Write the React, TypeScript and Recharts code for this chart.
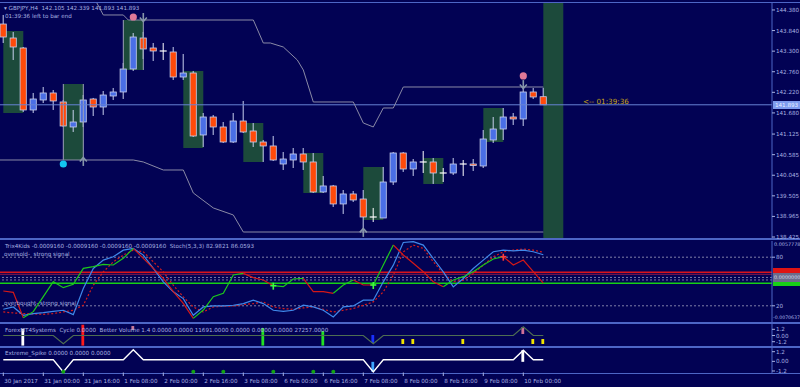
import React from "react";
import {
  ComposedChart,
  Bar,
  Line,
  Scatter,
  XAxis,
  YAxis,
  ReferenceArea,
  ReferenceLine,
} from "recharts";

const BG = "#020254";
const TXT = "#a9b3e2";
const EDGE = "#4d66c6";
const FONT = "DejaVu Sans";
const FS = 5.6;

// --- candles (GBPJPY H4), k = bar index ---
const opens = [144.012, 143.645, 143.383, 141.757, 142.019, 142.203, 141.967, 141.311, 141.442, 142.045, 141.835, 142.124, 142.229, 142.832, 143.645, 143.383, 143.304, 143.278, 142.622, 142.727, 141.101, 141.573, 141.311, 140.917, 141.468, 141.206, 140.917, 140.813, 140.34, 140.445, 140.603, 140.393, 139.606, 139.764, 139.292, 139.554, 139.422, 138.95, 138.924, 139.868, 140.629, 140.209, 140.393, 140.393, 140.104, 140.104, 140.34, 140.34, 140.288, 140.97, 141.258, 141.573, 141.521, 142.229, 142.105];
const highs = [144.249, 143.803, 143.409, 142.203, 142.36, 142.281, 142.019, 141.757, 142.15, 142.072, 142.255, 142.334, 142.99, 143.776, 143.803, 143.514, 143.514, 143.409, 143.226, 142.78, 141.678, 141.626, 141.442, 141.678, 141.993, 141.416, 140.97, 141.075, 140.655, 140.76, 140.76, 140.629, 140.026, 139.79, 139.658, 139.632, 139.658, 139.187, 140.262, 140.655, 140.655, 140.471, 140.681, 140.498, 140.235, 140.498, 140.445, 140.471, 141.232, 141.573, 141.809, 141.678, 142.386, 142.334, 142.339];
const lows = [143.514, 143.068, 141.704, 141.678, 141.94, 141.757, 141.311, 141.18, 141.311, 141.599, 141.626, 142.019, 142.045, 142.78, 143.094, 143.042, 143.068, 142.544, 142.544, 141.049, 140.786, 141.101, 140.891, 140.891, 141.153, 140.786, 140.393, 140.419, 140.183, 140.235, 140.183, 139.58, 139.58, 139.213, 139.029, 139.344, 138.531, 138.819, 138.924, 139.79, 140.131, 140.026, 140.104, 139.816, 139.868, 140.052, 140.026, 140.157, 140.235, 140.891, 140.97, 141.363, 141.337, 142.045, 141.893];
const closes = [143.671, 143.409, 141.757, 142.045, 142.203, 141.993, 141.337, 141.442, 142.019, 141.835, 142.15, 142.229, 142.832, 143.671, 143.357, 143.304, 143.304, 142.622, 142.727, 141.075, 141.573, 141.311, 140.917, 141.468, 141.18, 140.917, 140.813, 140.445, 140.471, 140.603, 140.393, 139.606, 139.764, 139.292, 139.554, 139.396, 138.95, 138.95, 139.868, 140.629, 140.209, 140.393, 140.393, 140.104, 140.104, 140.34, 140.34, 140.314, 140.996, 141.258, 141.573, 141.521, 142.229, 142.098, 141.893];

const priceTicks = [144.38, 143.84, 143.3, 142.76, 142.22, 141.68, 141.125, 140.585, 140.045, 139.505, 138.965, 138.425];
const lastPrice = 141.893;

// shaded zones: from bar k1 to k2, price top/bottom
const zones = [
  { k1: 0, k2: 2, top: 143.829, bottom: 141.678 },
  { k1: 6, k2: 8, top: 142.439, bottom: 140.445 },
  { k1: 12, k2: 14, top: 144.117, bottom: 142.806 },
  { k1: 18, k2: 20, top: 142.78, bottom: 140.76 },
  { k1: 24, k2: 26, top: 141.416, bottom: 140.393 },
  { k1: 30, k2: 32, top: 140.629, bottom: 139.58 },
  { k1: 36, k2: 38, top: 140.262, bottom: 138.872 },
  { k1: 42, k2: 44, top: 140.498, bottom: 139.816 },
  { k1: 48, k2: 50, top: 141.809, bottom: 140.917 },
  { k1: 54, k2: 56, top: 145, bottom: 138 },
];
const zoneEdges = [
  { k: 6, top: 142.439, bottom: 140.445 },
  { k: 8, top: 142.439, bottom: 140.445 },
  { k: 12, top: 144.117, bottom: 142.806 },
  { k: 14, top: 144.117, bottom: 142.806 },
];

// channel lines
const upperBand = [
  { k: 9.2, p: 144.64 }, { k: 10, p: 144.249 }, { k: 12, p: 144.249 }, { k: 12.5, p: 144.117 },
  { k: 25, p: 144.117 }, { k: 26, p: 143.514 }, { k: 26.7, p: 143.514 }, { k: 28, p: 143.409 },
  { k: 29.4, p: 143.068 }, { k: 30, p: 142.806 }, { k: 31, p: 141.967 }, { k: 35, p: 141.967 },
  { k: 36, p: 141.416 }, { k: 37, p: 141.311 }, { k: 38, p: 141.809 }, { k: 39, p: 141.809 },
  { k: 40, p: 142.36 }, { k: 54, p: 142.36 },
];
const lowerBand = [
  { k: -0.33, p: 140.445 }, { k: 13, p: 140.445 }, { k: 14, p: 140.393 }, { k: 16, p: 140.183 },
  { k: 18, p: 140.183 }, { k: 19, p: 139.58 }, { k: 21, p: 139.187 }, { k: 23, p: 139.003 },
  { k: 24, p: 138.556 }, { k: 54, p: 138.556 },
];

const pinkDots = [{ k: 13, p: 144.196 }, { k: 52, p: 142.649 }];
const cyanDots = [{ k: 6, p: 140.34 }];
const downArrows = [{ k: 14, p: 144.17 }, { k: 52, p: 142.41 }];
const upArrows = [{ k: 8, p: 140.42 }, { k: 36, p: 138.56 }];

// --- Trix4Kids / Stoch panel ---
const trix = [-0.002149, -0.00236, -0.006377, -0.005426, -0.003048, -0.00067, -0.001621, -0.001092, 0.001444, 0.001709, 0.002079, 0.001973, 0.00303, 0.004615, 0.00303, 0.001444, -0.000141, -0.002255, -0.004105, -0.006483, -0.005162, -0.003048, -0.002519, 0.000388, 0.000652, -0.000035, -0.000405, -0.001304, -0.001462, -0.000247, -0.000141, -0.002255, -0.002255, -0.002519, -0.001198, -0.000405, -0.001198, -0.001198, 0.001973, 0.005144, 0.003558, 0.002237, 0.000916, -0.00067, -0.001462, -0.000405, 0.000123, 0.000916, 0.001973, 0.002924, 0.003294, 0.001973, 0.002766, 0.000916, -0.000916];
const trixGreenRuns = [[2, 13], [19, 24], [27, 30], [33, 35], [37, 39], [44, 50]];
const trixRedRuns = [[0, 2], [13, 19], [24, 27], [30, 33], [35, 37], [39, 44], [50, 54]];
const stochMain = [15.7, 18.6, 8.3, 10.4, 11.6, 13.2, 14.5, 9.1, 41.3, 66.1, 76.4, 80.5, 88.7, 90.8, 82.6, 66.1, 49.6, 37.2, 28.9, 8.3, 18.6, 19.8, 19.8, 20.7, 22.7, 26.9, 22.7, 14.5, 13.2, 14.5, 20.7, 18.6, 14.5, 6.2, 18.6, 19.8, 26.9, 26.9, 49.6, 70.2, 98.2, 99.1, 94.9, 78.4, 61.9, 43.4, 53.7, 66.1, 76.4, 86.7, 88.7, 87.9, 88.7, 86.7, 83.0];
const stochSignal = [12.4, 11.2, 10.4, 10.0, 9.5, 10.4, 12.4, 14.5, 20.7, 45.4, 61.9, 74.3, 82.6, 88.7, 86.7, 74.3, 61.9, 45.4, 31.0, 18.6, 12.4, 18.6, 19.4, 19.8, 21.5, 22.7, 24.8, 18.6, 16.6, 15.7, 17.4, 18.6, 15.7, 12.4, 14.5, 16.6, 20.7, 24.8, 37.2, 57.8, 86.7, 94.9, 90.8, 74.3, 59.9, 49.6, 51.6, 59.9, 70.2, 80.5, 86.7, 88.7, 90.0, 88.7, 86.1];
const trixBuy = [27, 37];
const trixSell = [50];

// --- Cycle / Better Volume panel ---
const cycle = [0, 0, 0, 0, 0, 0, -1.6, 0, 0, 0, 0, 0, 0, 0, 0, 0, 0, 0, 0, 0, 0, 0, 0, 0, 0, 0, 0, 0, 0, 0, 0, 0, 0, 0, 0, 0, 0, -1.6, 0, 0, 0, 0, 0, 0, 0, 0, 0, 0, 0, 0, 0, 0, 1.7, 0, 0];
const volMarks = [
  { k: 2, lo: -1.95, hi: 1.32, color: "#ffffff" },
  { k: 8, lo: -1.95, hi: 2.09, color: "#ff1a1a" },
  { k: 13, lo: 1.06, hi: 1.84, color: "#c87898" },
  { k: 26, lo: -1.95, hi: 1.45, color: "#22e022" },
  { k: 32, lo: -1.95, hi: 0.87, color: "#22e022" },
  { k: 37, lo: -1.45, hi: 0.1, color: "#1a30ff" },
  { k: 40, lo: -1.64, hi: -0.68, color: "#f2e400" },
  { k: 41, lo: -1.64, hi: -0.68, color: "#f2e400" },
  { k: 46, lo: -1.64, hi: -0.68, color: "#f2e400" },
  { k: 52, lo: 0.29, hi: 1.64, color: "#d07098" },
  { k: 53, lo: -1.64, hi: -0.68, color: "#f2e400" },
  { k: 54, lo: -1.64, hi: -0.68, color: "#f2e400" },
];

// --- Extreme_Spike panel ---
const spike = [0.19, 0.19, 0.19, 0.19, 0.19, 0.19, -1.31, 0.19, 0.19, 0.19, 0.19, 0.19, 0.19, 1.43, 0.19, 0.19, 0.19, 0.19, 0.19, 0.19, 0.19, 0.19, 0.19, 0.19, 0.19, 0.19, 0.19, 0.19, 0.19, 0.19, 0.19, 0.19, 0.19, 0.19, 0.19, 0.19, 0.19, -1.31, 0.19, 0.19, 0.19, 0.19, 0.19, 0.19, 0.19, 0.19, 0.19, 0.19, 0.19, 0.19, 0.19, 0.19, 1.38, 0.19, 0.19];
const spikeMarks = [
  { k: 37, lo: -1.31, hi: -0.06, color: "#3ea6ff" },
  { k: 52, lo: -0.06, hi: 1.38, color: "#ffffff" },
];
const spikeDots = [6, 19, 22, 27, 31, 33];

const timeTicks = [0, 4, 8, 12, 16, 20, 24, 28, 32, 36, 40, 44, 48, 52];
const timeLabels = ["30 Jan 2017", "31 Jan 00:00", "31 Jan 16:00", "1 Feb 08:00", "2 Feb 00:00", "2 Feb 16:00", "3 Feb 08:00", "6 Feb 00:00", "6 Feb 16:00", "7 Feb 08:00", "8 Feb 00:00", "8 Feb 16:00", "9 Feb 08:00", "10 Feb 00:00"];

const X_DOMAIN: [number, number] = [-0.33, 76.87];

const candles = opens.map((o, k) => ({ k, o, h: highs[k], l: lows[k], c: closes[k] }));

const inRuns = (k: number, runs: number[][]) => runs.some(([a, b]) => k >= a && k <= b);
const indRows = trix.map((t, k) => ({
  k,
  main: stochMain[k],
  sig: stochSignal[k],
  tg: inRuns(k, trixGreenRuns) ? t : null,
  tr: inRuns(k, trixRedRuns) ? t : null,
}));
const buyPts = trixBuy.map((k) => ({ k, t: trix[k] }));
const sellPts = trixSell.map((k) => ({ k, t: trix[k] }));

const volRows = cycle.map((c, k) => {
  const m = volMarks.find((v) => v.k === k);
  return { k, cyc: c, vol: m ? [m.lo, m.hi] : null, color: m ? m.color : "none" };
});
const spikeRows = spike.map((s, k) => {
  const m = spikeMarks.find((v) => v.k === k);
  return { k, spk: s, sb: m ? [m.lo, m.hi] : null, color: m ? m.color : "none" };
});
const spikeDotPts = spikeDots.map((k) => ({ k, v: -1.31 }));

// pick the data row out of the props a bar shape receives
const rowOf = (props: any, key: string) => {
  const p = props.payload;
  if (p && p[key] !== undefined) return p;
  if (p && p.payload && p.payload[key] !== undefined) return p.payload;
  if (props[key] !== undefined) return props;
  return null;
};

// --- shapes ---
const BODY_W = 7;
const Candle = (props: any) => {
  const { x, y, width, height } = props;
  const d = rowOf(props, "o");
  if (!d || height == null || isNaN(y)) return null;
  const { o, h, l, c } = d;
  const top = Math.min(y, y + height);
  const span = Math.abs(height);
  const per = h - l > 0 ? span / (h - l) : 0;
  const yO = top + (h - o) * per;
  const yC = top + (h - c) * per;
  const cx = x + width / 2;
  const x0 = cx - BODY_W / 2;
  const wick = "#c9d0ee";
  if (o === c) {
    return (
      <g>
        <line x1={cx} x2={cx} y1={top} y2={top + span} stroke="#ffffff" />
        <line x1={x0} x2={x0 + BODY_W} y1={yO} y2={yO} stroke="#ffffff" strokeWidth={1.2} />
      </g>
    );
  }
  const bull = c > o;
  const bTop = Math.min(yO, yC);
  const bH = Math.max(Math.abs(yC - yO), 1.5);
  return (
    <g>
      <line x1={cx} x2={cx} y1={top} y2={top + span} stroke={wick} />
      <rect
        x={x0 + 0.4}
        y={bTop}
        width={BODY_W - 0.8}
        height={bH}
        fill={bull ? "#4a6fe6" : "#ff4a0a"}
        stroke={wick}
        strokeWidth={0.8}
      />
    </g>
  );
};

const Mark = (props: any) => {
  const { x, y, width, height } = props;
  const d = rowOf(props, "color");
  if (!d || d.color === "none" || height == null || isNaN(y)) return null;
  const cx = x + width / 2;
  const top = Math.min(y, y + height);
  return <rect x={cx - 1.4} y={top} width={2.8} height={Math.abs(height)} fill={d.color} />;
};

const Dot = (color: string, r: number) => (p: any) => (
  <circle cx={p.cx} cy={p.cy} r={r} fill={color} />
);

const ArrowDown = (p: any) => (
  <g stroke="#8796aa" strokeWidth={1.6} fill="none">
    <line x1={p.cx} x2={p.cx} y1={p.cy - 5} y2={p.cy + 3} />
    <polyline points={`${p.cx - 3.5},${p.cy - 0.5} ${p.cx},${p.cy + 3.5} ${p.cx + 3.5},${p.cy - 0.5}`} />
  </g>
);
const ArrowUp = (p: any) => (
  <g stroke="#8796aa" strokeWidth={1.6} fill="none">
    <line x1={p.cx} x2={p.cx} y1={p.cy + 5} y2={p.cy - 3} />
    <polyline points={`${p.cx - 3.5},${p.cy + 0.5} ${p.cx},${p.cy - 3.5} ${p.cx + 3.5},${p.cy + 0.5}`} />
  </g>
);
const Cross = (color: string) => (p: any) => (
  <g stroke={color} strokeWidth={1.6}>
    <line x1={p.cx - 3} x2={p.cx + 3} y1={p.cy} y2={p.cy} />
    <line x1={p.cx} x2={p.cx} y1={p.cy - 3} y2={p.cy + 4} />
  </g>
);

const TimeTick = (props: any) => {
  const { x, y, payload } = props;
  const i = timeTicks.indexOf(payload.value);
  return (
    <g>
      <line x1={x} x2={x} y1={y - 0.5} y2={y + 3} stroke={TXT} />
      <text x={x + 1} y={y + 10} fill={TXT} fontSize={FS} fontFamily={FONT} textAnchor="start">
        {timeLabels[i]}
      </text>
    </g>
  );
};

const axisTick = { fill: TXT, fontSize: FS, fontFamily: FONT };

const Txt: React.FC<{ x: number; y: number; color?: string; size?: number; children: React.ReactNode }> = ({ x, y, color, size, children }) => (
  <div
    style={{
      position: "absolute",
      left: x,
      top: y - 4,
      height: 8,
      lineHeight: "8px",
      fontSize: size || FS,
      fontFamily: FONT,
      color: color || TXT,
      whiteSpace: "pre",
    }}
  >
    {children}
  </div>
);

const HLine: React.FC<{ y: number; h?: number }> = ({ y, h }) => (
  <div style={{ position: "absolute", left: 0, top: y, width: 800, height: h || 1, background: EDGE }} />
);

const App: React.FC = () => {
  return (
    <div
      style={{
        position: "fixed",
        left: 0,
        top: 0,
        width: 800,
        height: 387,
        background: BG,
        overflow: "hidden",
      }}
    >
      <HLine y={2} />
      <HLine y={238} h={2} />
      <HLine y={322} h={2} />
      <HLine y={346} h={2} />
      <HLine y={373} />

      {/* main price chart */}
      <div style={{ position: "absolute", left: 0, top: 3 }}>
        <ComposedChart width={800} height={241} data={candles} margin={{ top: 0, right: 0, bottom: 6, left: 0 }}>
          <XAxis dataKey="k" type="number" domain={X_DOMAIN} allowDataOverflow hide />
          <YAxis
            orientation="right"
            width={28}
            domain={[138.399, 144.563]}
            allowDataOverflow
            ticks={priceTicks}
            interval={0}
            tick={axisTick}
            tickFormatter={(v) => Number(v).toFixed(3)}
            tickSize={3}
            tickMargin={1}
            tickLine={{ stroke: TXT }}
            axisLine={{ stroke: EDGE }}
          />
          {zones.map((z, i) => (
            <ReferenceArea
              key={i}
              x1={z.k1}
              x2={z.k2}
              y1={z.bottom}
              y2={z.top}
              fill="#1c4a3b"
              fillOpacity={1}
              stroke="none"
              ifOverflow="hidden"
            />
          ))}
          {zoneEdges.map((e, i) => (
            <ReferenceLine
              key={"e" + i}
              segment={[{ x: e.k, y: e.top }, { x: e.k, y: e.bottom }]}
              stroke="#9ea2b8"
              strokeWidth={1}
            />
          ))}
          <ReferenceLine y={lastPrice} stroke="#6682d4" strokeWidth={1} />
          <Line data={upperBand} dataKey="p" type="linear" stroke="#8a8aa6" strokeWidth={1} dot={false} isAnimationActive={false} />
          <Line data={lowerBand} dataKey="p" type="linear" stroke="#8a8aa6" strokeWidth={1} dot={false} isAnimationActive={false} />
          <Bar dataKey={(d: any) => [d.l, d.h]} barSize={7} shape={Candle} isAnimationActive={false} />
          <Scatter data={pinkDots} dataKey="p" shape={Dot("#e07898", 3.6)} isAnimationActive={false} />
          <Scatter data={cyanDots} dataKey="p" shape={Dot("#12c6f2", 3.6)} isAnimationActive={false} />
          <Scatter data={downArrows} dataKey="p" shape={ArrowDown} isAnimationActive={false} />
          <Scatter data={upArrows} dataKey="p" shape={ArrowUp} isAnimationActive={false} />
        </ComposedChart>
      </div>

      {/* Trix4Kids + Stoch */}
      <div style={{ position: "absolute", left: 0, top: 241 }}>
        <ComposedChart width={800} height={81} data={indRows} margin={{ top: 0, right: 0, bottom: 0, left: 0 }}>
          <XAxis dataKey="k" type="number" domain={X_DOMAIN} allowDataOverflow hide />
          <YAxis
            yAxisId="st"
            orientation="right"
            width={28}
            domain={[0, 100]}
            ticks={[20, 80]}
            tick={axisTick}
            tickSize={3}
            tickMargin={1}
            tickLine={{ stroke: TXT }}
            axisLine={{ stroke: EDGE }}
          />
          <YAxis yAxisId="tx" orientation="right" domain={[-0.0070637, 0.0057778]} allowDataOverflow hide />
          <ReferenceLine yAxisId="st" y={80} stroke="#8080a8" strokeDasharray="2 2" />
          <ReferenceLine yAxisId="st" y={20} stroke="#8080a8" strokeDasharray="2 2" />
          <ReferenceLine yAxisId="tx" y={0.00082} stroke="#d8141c" strokeWidth={1.5} />
          <ReferenceLine yAxisId="tx" y={0.0005} stroke="#8a1a4a" strokeWidth={1} />
          <ReferenceLine yAxisId="tx" y={0} stroke="#7a7aa4" strokeDasharray="2 2" />
          <ReferenceLine yAxisId="tx" y={-0.0004} stroke="#7a7aa4" strokeDasharray="2 2" />
          <ReferenceLine yAxisId="tx" y={-0.000916} stroke="#16d016" strokeWidth={1.5} />
          <Line yAxisId="st" dataKey="sig" stroke="#d41c1c" strokeDasharray="2 2" strokeWidth={1.2} dot={false} isAnimationActive={false} />
          <Line yAxisId="st" dataKey="main" stroke="#3f88ea" strokeWidth={1.2} dot={false} isAnimationActive={false} />
          <Line yAxisId="tx" dataKey="tr" stroke="#d41818" strokeWidth={1.2} dot={false} connectNulls={false} isAnimationActive={false} />
          <Line yAxisId="tx" dataKey="tg" stroke="#1cc81c" strokeWidth={1.2} dot={false} connectNulls={false} isAnimationActive={false} />
          <Scatter yAxisId="tx" data={buyPts} dataKey="t" shape={Cross("#3cff3c")} isAnimationActive={false} />
          <Scatter yAxisId="tx" data={sellPts} dataKey="t" shape={Cross("#ff3c3c")} isAnimationActive={false} />
        </ComposedChart>
      </div>

      {/* Cycle + Better Volume */}
      <div style={{ position: "absolute", left: 0, top: 324 }}>
        <ComposedChart width={800} height={22} data={volRows} margin={{ top: 0, right: 0, bottom: 0, left: 0 }}>
          <XAxis dataKey="k" type="number" domain={X_DOMAIN} allowDataOverflow hide />
          <YAxis
            orientation="right"
            width={28}
            domain={[-2.03, 2.23]}
            ticks={[1.2, 0, -1.2]}
            interval={0}
            tick={axisTick}
            tickFormatter={(v) => (v === 0 ? "0.00" : String(v))}
            tickSize={3}
            tickMargin={1}
            tickLine={{ stroke: TXT }}
            axisLine={{ stroke: EDGE }}
          />
          <Line dataKey="cyc" stroke="#4f6e52" strokeWidth={1.2} dot={false} isAnimationActive={false} />
          <Bar dataKey="vol" barSize={3} shape={Mark} isAnimationActive={false} />
        </ComposedChart>
      </div>

      {/* Extreme_Spike + time axis */}
      <div style={{ position: "absolute", left: 0, top: 348 }}>
        <ComposedChart width={800} height={39} data={spikeRows} margin={{ top: 0, right: 0, bottom: 0, left: 0 }}>
          <XAxis
            dataKey="k"
            type="number"
            domain={X_DOMAIN}
            allowDataOverflow
            ticks={timeTicks}
            interval={0}
            height={14}
            axisLine={false}
            tickLine={false}
            tickSize={0}
            tickMargin={0}
            tick={TimeTick}
          />
          <YAxis
            orientation="right"
            width={28}
            domain={[-1.45, 1.66]}
            ticks={[1.2, 0, -1.2]}
            interval={0}
            tick={axisTick}
            tickFormatter={(v) => (v === 0 ? "0.00" : String(v))}
            tickSize={3}
            tickMargin={1}
            tickLine={{ stroke: TXT }}
            axisLine={{ stroke: EDGE }}
          />
          <Line dataKey="spk" stroke="#ffffff" strokeWidth={1.4} dot={false} isAnimationActive={false} />
          <Bar dataKey="sb" barSize={3} shape={Mark} isAnimationActive={false} />
          <Scatter data={spikeDotPts} dataKey="v" shape={Dot("#13a313", 2)} isAnimationActive={false} />
        </ComposedChart>
      </div>

      {/* labels */}
      <Txt x={4} y={8}>{"▾ GBPJPY,H4  142.105 142.339 141.893 141.893"}</Txt>
      <Txt x={5} y={16}>01:39:36 left to bar end</Txt>
      <Txt x={583} y={102} color="#c8a414" size={7.2}>{"<-- 01:39:36"}</Txt>
      <div
        style={{
          position: "absolute",
          left: 773,
          top: 101,
          width: 27,
          height: 8,
          background: "#7e9cee",
          color: "#e8efff",
          fontSize: FS,
          fontFamily: FONT,
          lineHeight: "8px",
          paddingLeft: 2,
          boxSizing: "border-box",
        }}
      >
        141.893
      </div>

      <Txt x={5} y={246}>{"Trix4Kids -0.0009160 -0.0009160 -0.0009160 -0.0009160  Stoch(5,3,3) 82.9821 86.0593"}</Txt>
      <Txt x={4} y={254}>{"oversold-  strong signal"}</Txt>
      <Txt x={4} y={303}>{"overbought- strong signal"}</Txt>
      <Txt x={774} y={244} size={4.9}>0.0057778</Txt>
      <Txt x={773} y={318} size={4.7}>-0.0070637</Txt>
      <div style={{ position: "absolute", left: 773, top: 268, width: 27, height: 5, background: "#e01414" }} />
      <div style={{ position: "absolute", left: 773, top: 273, width: 27, height: 9, background: "#6c6c8c" }} />
      <div style={{ position: "absolute", left: 773, top: 282, width: 27, height: 4, background: "#18d018" }} />
      <Txt x={774} y={277} size={4.9} color="#d0d4e8">0.0000000</Txt>

      <Txt x={5} y={330}>{"ForexMT4Systems  Cycle 0.0000  Better Volume 1.4 0.0000 0.0000 11691.0000 0.0000 0.0000 0.0000 27257.0000"}</Txt>
      <Txt x={5} y={353}>Extreme_Spike 0.0000 0.0000 0.0000</Txt>
    </div>
  );
};

export default App;
